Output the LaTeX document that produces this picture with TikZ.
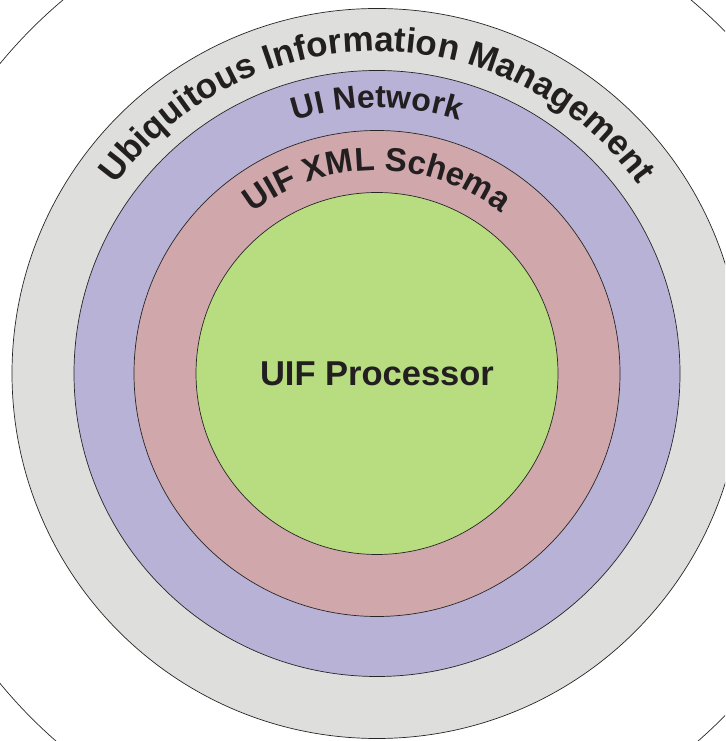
\documentclass[tikz,border=0pt]{standalone}
\usepackage{fontspec}
\setmainfont{Liberation Sans}
\usetikzlibrary{decorations.text}

\definecolor{uimgray}{HTML}{DEDEDD}
\definecolor{netpurple}{HTML}{B8B2D6}
\definecolor{schemapink}{HTML}{D0A8AC}
\definecolor{procgreen}{HTML}{B8DC80}
\definecolor{labelink}{HTML}{231F20}

\newcommand\ringfont[1]{\fontsize{#1}{#1}\selectfont\bfseries}

\tikzset{
  ring/.style={circle, draw=black!85, line width=0.7pt, inner sep=0pt},
  ringtext/.style n args={3}{decorate, decoration={text along path,
      text align=center, text color=labelink,
      text={|\ringfont{#1}|#3}},
    insert path={(c) ++(180:#2) arc[start angle=180, end angle=0, radius=#2]}}
}

\begin{document}
\begin{tikzpicture}[x=1pt, y=1pt]

\useasboundingbox (0,0) rectangle (725,741);
\clip (0,0) rectangle (725,741); %% page

\coordinate (c) at (377,367.5);

\node[ring, fill=white, minimum size=976pt] (outer) at (c) {};
\node[ring, fill=uimgray, minimum size=730pt] (uim) at (c) {};
\node[ring, fill=netpurple, minimum size=606pt] (net) at (c) {};
\node[ring, fill=schemapink, minimum size=486pt] (schema) at (c) {};
\node[ring, fill=procgreen, minimum size=362pt, text=labelink,
  font=\ringfont{34.5}] (proc) at (c) {UIF Processor};

%% curved labels
\path[ringtext={35}{322}{Ubiquitous Information Management}];
\path[ringtext={32}{266}{UI Network}];
\path[ringtext={33}{203}{UIF XML Schema}];

\end{tikzpicture}
\end{document}
